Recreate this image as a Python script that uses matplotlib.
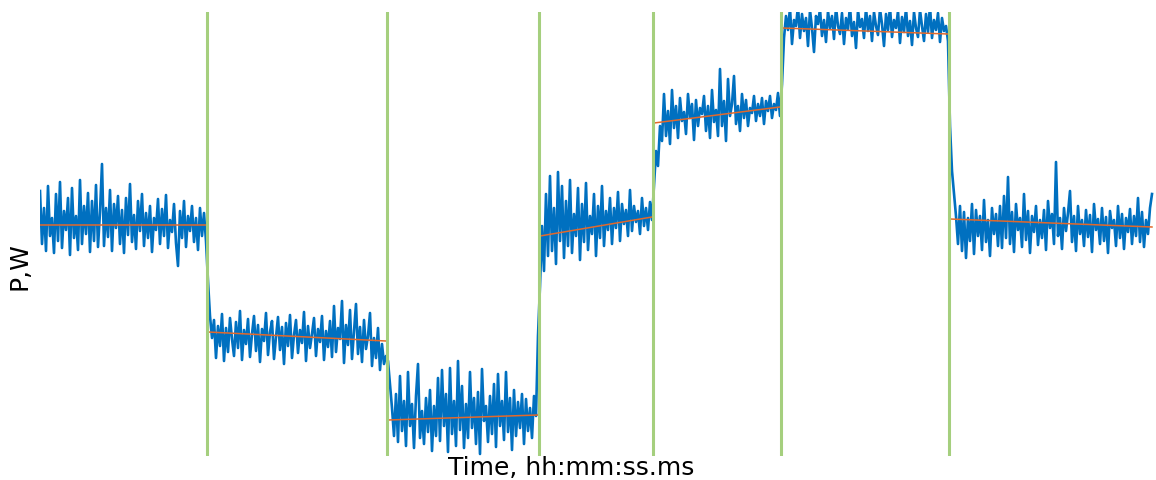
import numpy as np
import matplotlib
matplotlib.use('Agg')
import matplotlib.pyplot as plt

# power readings per step (arbitrary W scale, no ticks in the chart)
seg1 = [265, 212, 248, 205, 270, 220, 238, 203, 262, 215,
        274, 208, 245, 226, 258, 201, 268, 218, 240, 206,
        276, 212, 250, 222, 263, 204, 255, 215, 271, 209,
        244, 292, 210, 248, 219, 266, 205, 252, 228, 260,
        212, 246, 203, 258, 221, 272, 214, 241, 207, 255,
        225, 262, 210, 243, 218, 250, 204, 238, 226, 257,
        212, 247, 220, 261, 208, 236, 224, 252, 213, 190,
        245, 218, 255, 209, 240, 225, 250, 214, 238, 206,
        248, 220, 243, 215]
seg2 = [175, 140, 118, 136, 98, 130, 110, 142, 95, 128,
        104, 138, 117, 100, 134, 108, 145, 96, 126, 112,
        137, 99, 122, 140, 105, 131, 94, 127, 115, 143,
        101, 124, 135, 97, 119, 139, 106, 129, 92, 133,
        110, 141, 98, 121, 136, 103, 126, 113, 144, 95,
        130, 108, 122, 138, 100, 127, 114, 140, 96, 125,
        109, 135, 99, 150, 104, 128, 117, 155, 93, 131,
        111, 146, 97, 124, 152, 102, 129, 94, 136, 107,
        120, 143, 90, 118, 98, 128, 86, 112, 92, 100]
seg3 = [95, 72, 48, 20, 62, 14, 80, 25, 55, 10,
        84, 30, 52, 8, 60, 92, 18, 45, 12, 58,
        24, 66, 5, 50, 20, 78, 15, 86, 30, 62,
        4, 88, 22, 55, 10, 95, 26, 70, 8, 52,
        18, 84, 28, 58, 12, 64, 2, 87, 35, 50,
        14, 60, 22, 72, 9, 82, 30, 55, 16, 84,
        24, 58, 6, 66, 20, 54, 28, 62, 12, 57,
        25, 48, 18, 60, 40, 120]
seg4 = [170, 230, 185, 262, 200, 280, 205, 248, 192, 284,
        215, 270, 198, 255, 210, 276, 203, 242, 220, 268,
        196, 252, 214, 273, 206, 240, 222, 262, 200, 250,
        218, 270, 210, 245, 226, 258, 212, 248, 228, 264,
        215, 252, 232, 246, 220, 266, 225, 250, 234, 245,
        222, 258, 230, 248, 226, 254, 236]
seg5 = [270, 305, 290, 330, 315, 362, 320, 345, 312, 366,
        328, 350, 318, 358, 335, 344, 322, 362, 338, 352,
        316, 356, 330, 348, 342, 360, 325, 350, 318, 366,
        334, 346, 320, 387, 330, 355, 315, 377, 340, 352,
        380, 332, 350, 325, 362, 338, 356, 330, 348, 343,
        360, 335, 352, 340, 358, 332, 355, 345, 360, 338,
        352, 346, 363, 340]
seg6 = [372, 418, 440, 426, 448, 412, 436, 430, 450, 418,
        442, 425, 438, 410, 446, 428, 404, 440, 432, 447,
        420, 436, 414, 445, 428, 440, 417, 449, 430, 422,
        443, 412, 438, 427, 450, 420, 434, 408, 446, 429,
        437, 418, 448, 425, 440, 415, 444, 430, 421, 447,
        432, 410, 442, 426, 449, 419, 436, 428, 445, 413,
        439, 424, 448, 420, 435, 411, 444, 428, 419, 446,
        430, 415, 442, 424, 450, 418, 436, 426, 443, 414,
        438, 425, 430, 415]
seg7 = [330, 285, 262, 240, 212, 250, 205, 244, 198, 238,
        215, 252, 202, 246, 220, 240, 206, 256, 214, 236,
        200, 248, 222, 242, 210, 250, 208, 260, 218, 279,
        212, 244, 204, 252, 226, 238, 209, 262, 216, 245,
        203, 240, 224, 250, 211, 236, 218, 246, 206, 255,
        228, 242, 212, 294, 220, 238, 207, 248, 225, 243,
        265, 214, 240, 205, 250, 222, 236, 210, 246, 219,
        241, 204, 252, 226, 237, 212, 248, 215, 239, 203,
        245, 228, 236, 210, 250, 218, 242, 207, 238, 224,
        247, 212, 240, 220, 258, 214, 244, 209, 236, 222,
        248, 262]

segments = [seg1, seg2, seg3, seg4, seg5, seg6, seg7]
# fitted trend per step (start, end)
trend_start = [231, 124, 36, 220, 333, 428, 237]
trend_end = [231, 115, 41, 239, 349, 422, 229]

power = np.concatenate([np.array(s, dtype=float) for s in segments])
t = np.arange(len(power))
bounds = np.cumsum([0] + [len(s) for s in segments])

fig = plt.figure(figsize=(11.56, 4.81), dpi=100)
ax = fig.add_axes([40 / 1156, 24 / 481, 1116 / 1156, 444 / 481])

ax.plot(t, power, color='#0070C0', lw=1.9)
for i in range(len(segments)):
    ax.plot([bounds[i], bounds[i + 1] - 1], [trend_start[i], trend_end[i]],
            color='#E2692C', lw=1.1)
for b in bounds[1:-1]:
    ax.axvline(b - 0.5, color='#A5CF7E', lw=2.2)

ax.set_xlim(0, len(power) + 1)
ax.set_ylim(0, 444)
ax.set_xticks([])
ax.set_yticks([])
for s in ax.spines.values():
    s.set_visible(False)

fig.text(571 / 1156, (481 - 468) / 481, 'Time, hh:mm:ss.ms', fontsize=18,
         ha='center', va='center', family='DejaVu Sans')
fig.text(19 / 1156, (481 - 266) / 481, 'P,W', fontsize=18, rotation=90,
         ha='center', va='center', family='DejaVu Sans')

fig.savefig('out.png', dpi=100)
